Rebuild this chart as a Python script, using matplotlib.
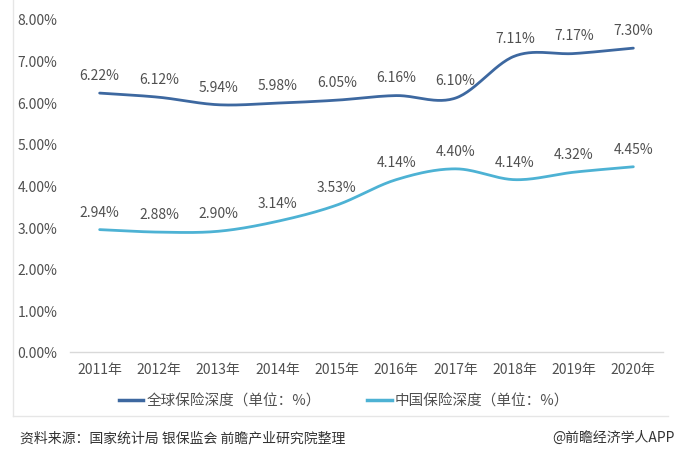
import numpy as np
import matplotlib
matplotlib.use("Agg")
from matplotlib import pyplot as plt
from matplotlib.lines import Line2D

plt.rcParams['font.family'] = ['Noto Sans CJK SC', 'DejaVu Sans']

# data
years = ["2011年", "2012年", "2013年", "2014年", "2015年",
         "2016年", "2017年", "2018年", "2019年", "2020年"]
world = [6.22, 6.12, 5.94, 5.98, 6.05, 6.16, 6.10, 7.11, 7.17, 7.30]
china = [2.94, 2.88, 2.90, 3.14, 3.53, 4.14, 4.40, 4.14, 4.32, 4.45]

world_name = "全球保险深度（单位：%）"
china_name = "中国保险深度（单位：%）"
world_color = "#3D68A0"
china_color = "#4DB2D4"
text_color = "#505050"


def smooth(y, n=30):
    # catmull-rom style smoothing between the points
    y = np.asarray(y, dtype=float)
    x = np.arange(len(y), dtype=float)
    m = np.gradient(y, x)
    xs, ys = [], []
    for i in range(len(y) - 1):
        t = np.linspace(0, 1, n, endpoint=False)
        h00 = 2*t**3 - 3*t**2 + 1
        h10 = t**3 - 2*t**2 + t
        h01 = -2*t**3 + 3*t**2
        h11 = t**3 - t**2
        xs.append(x[i] + t)
        ys.append(h00*y[i] + h10*m[i] + h01*y[i+1] + h11*m[i+1])
    xs.append([x[-1]])
    ys.append([y[-1]])
    return np.concatenate(xs), np.concatenate(ys)


fig = plt.figure(figsize=(6.87, 4.56), dpi=100)
ax = fig.add_axes([70/687, 1 - 353/456, 593/687, 333/456])

x = np.arange(len(years))
for vals, col in [(world, world_color), (china, china_color)]:
    sx, sy = smooth(vals)
    ax.plot(sx, sy, color=col, lw=2.0, solid_capstyle='round')
    for xi, v in zip(x, vals):
        ax.annotate(f"{v:.2f}%", (xi, v), xytext=(0, 8), textcoords='offset points',
                    ha='center', va='bottom', fontsize=10, color=text_color)

ax.set_xlim(-0.5, len(years) - 0.5)
ax.set_ylim(0, 8)
ax.set_yticks(np.arange(0, 9, 1))
ax.set_yticklabels([f"{v:.2f}%" for v in range(9)])
ax.set_xticks(x)
ax.set_xticklabels(years)
ax.tick_params(axis='both', length=0, labelsize=10, colors=text_color)
ax.tick_params(axis='y', pad=9)
ax.tick_params(axis='x', pad=7)
for s in ['top', 'right', 'left']:
    ax.spines[s].set_visible(False)
ax.spines['bottom'].set_color('#D9D9D9')
ax.spines['bottom'].set_linewidth(1)

handles = [Line2D([], [], color=world_color, lw=2.5),
           Line2D([], [], color=china_color, lw=2.5)]
fig.legend(handles, [world_name, china_name], loc='center',
           bbox_to_anchor=(344/687, 1 - 402/456), ncol=2, frameon=False,
           fontsize=10.5, labelcolor=text_color, handlelength=1.7,
           handletextpad=0.2, columnspacing=3.2)

# chart area border (left and bottom are visible)
fig.add_artist(Line2D([13/687, 13/687], [1 - 417/456, 1.0], color='#E6E6E6', lw=1))
fig.add_artist(Line2D([13/687, 668/687], [1 - 417/456, 1 - 417/456], color='#E6E6E6', lw=1))

fig.text(20/687, 1 - 438/456, "资料来源：国家统计局 银保监会 前瞻产业研究院整理",
         fontsize=10, color='#333333', va='center', ha='left')
fig.text(675/687, 1 - 438/456, "@前瞻经济学人APP",
         fontsize=10, color='#333333', va='center', ha='right')

fig.savefig("out.png", dpi=100, facecolor='white')
